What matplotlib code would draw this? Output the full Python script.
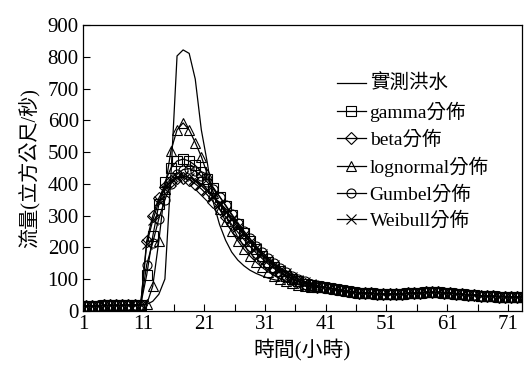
#!/usr/bin/env python3

"""Flood hydrograph: observed flow vs. synthetic unit-hydrograph fits."""

###############################################################################
# Library imports
###############################################################################

import matplotlib

matplotlib.use("Agg")

import matplotlib.pyplot as plt
import numpy as np
from matplotlib.ticker import MultipleLocator

###############################################################################
# Data (flow in m^3/s, one value per hour)
###############################################################################

# hours 1-11, shared by every series
baseflow = [16, 16, 16, 16, 17, 17, 17, 17, 18, 18, 18]

# hours 41-74, shared by every series
recession = [75, 72, 68, 64, 61, 59, 57, 56, 55, 54, 54, 53, 53, 54, 55, 56,
             57, 58, 58, 58, 57, 56, 54, 52, 50, 49, 48, 47, 46, 45, 45, 44,
             44, 44]

# hours 12-40
observed_rise = [20, 30, 52, 100, 430, 803, 822, 811, 730, 570, 465, 340,
                 272, 222, 185, 160, 142, 128, 118, 110, 103, 98, 94, 90, 87,
                 84, 81, 79, 77]
gamma_rise = [113, 235, 335, 405, 450, 472, 478, 472, 458, 438, 414, 388,
              360, 331, 302, 273, 245, 219, 195, 174, 155, 138, 124, 111,
              101, 93, 86, 81, 77]
beta_rise = [220, 300, 355, 390, 410, 420, 420, 413, 400, 384, 365, 343, 320,
             296, 272, 248, 225, 203, 183, 165, 148, 133, 120, 109, 99, 91,
             85, 80, 76]
lognormal_rise = [20, 78, 220, 385, 505, 570, 592, 570, 530, 486, 430, 372,
                  322, 282, 250, 221, 195, 173, 154, 137, 123, 111, 101, 93,
                  87, 82, 78, 76, 74]
gumbel_rise = [145, 215, 290, 350, 400, 430, 445, 448, 440, 425, 405, 385,
               360, 333, 305, 278, 252, 228, 205, 185, 166, 150, 135, 122,
               111, 101, 93, 86, 80]
weibull_rise = [210, 285, 345, 385, 410, 422, 425, 420, 410, 395, 377, 357,
                335, 312, 288, 264, 240, 218, 197, 178, 160, 144, 130, 118,
                107, 98, 90, 84, 78]

labels = ["實測洪水", "gamma分佈", "beta分佈", "lognormal分佈", "Gumbel分佈",
          "Weibull分佈"]
markers = [None, "s", "D", "^", "o", "x"]
x_ticks = [1, 11, 21, 31, 41, 51, 61, 71]
y_ticks = [0, 100, 200, 300, 400, 500, 600, 700, 800, 900]

###############################################################################
# Plot
###############################################################################


def main():
    plt.rcParams["font.family"] = ["Liberation Serif", "Noto Sans CJK TC"]

    rises = [observed_rise, gamma_rise, beta_rise, lognormal_rise,
             gumbel_rise, weibull_rise]
    series = [np.array(baseflow + r + recession) for r in rises]
    # each value is the flow over an hour, drawn at the middle of it
    t = np.arange(1, len(series[0]) + 1) - 0.5

    fig = plt.figure(figsize=(5.25, 3.7), dpi=100)
    ax = fig.add_axes([0.158, 0.16, 0.836, 0.772])

    sizes = {"s": 6.5, "D": 5.8, "^": 7.5, "o": 6.5, "x": 6.5}
    for y, lab, mk in zip(series, labels, markers):
        ax.plot(t, y, color="black", lw=0.9, marker=mk,
                ms=sizes.get(mk, 0), mfc="none", mec="black", mew=0.8,
                label=lab)

    ax.set_xlim(1, 73.3)
    ax.set_ylim(0, 900)
    ax.set_xticks(x_ticks)
    ax.xaxis.set_minor_locator(MultipleLocator(5, offset=1))
    ax.set_yticks(y_ticks)
    ax.tick_params(which="both", direction="in", length=5, width=0.8,
                   labelsize=15, pad=3)
    for s in ax.spines.values():
        s.set_linewidth(0.9)

    ax.set_xlabel("時間(小時)", fontsize=15, labelpad=4)
    ax.set_ylabel("流量(立方公尺/秒)", fontsize=14.5, labelpad=6)

    ax.legend(loc="upper left", bbox_to_anchor=(0.56, 0.855), frameon=False,
              fontsize=14, handlelength=1.5, handletextpad=0.2,
              labelspacing=0.42, borderaxespad=0)

    fig.savefig("out.png", dpi=100)


if __name__ == "__main__":
    main()
